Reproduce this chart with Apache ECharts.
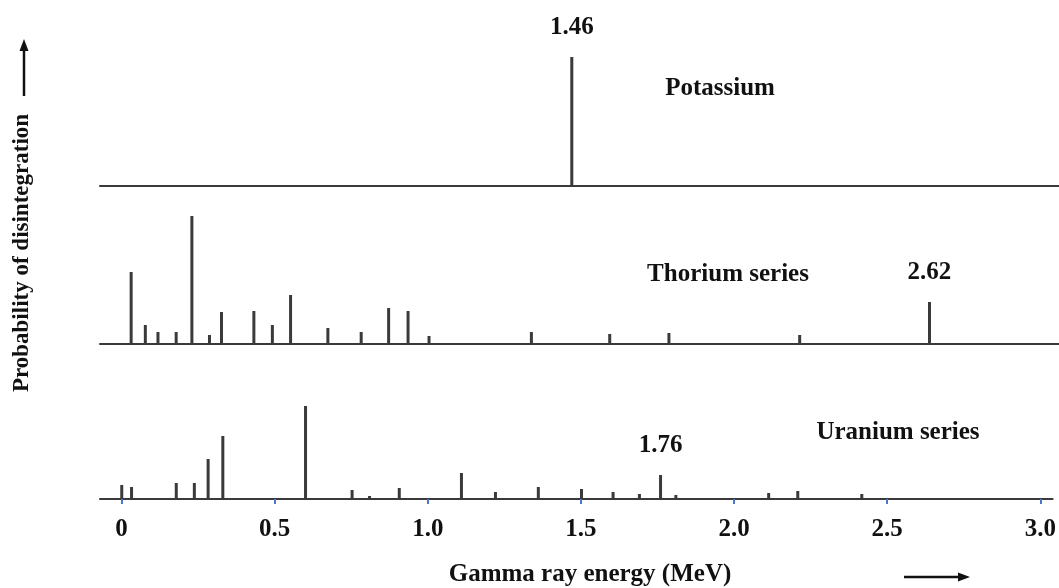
<!DOCTYPE html>
<html>
<head>
<meta charset="utf-8">
<script src="https://cdn.jsdelivr.net/npm/echarts@6/dist/echarts.min.js"></script>
<style>
html,body{margin:0;padding:0;background:#fff;}
#chart{width:1059px;height:588px;}
</style>
</head>
<body>
<div id="chart"></div>
<script>
// ---- data (energies in MeV, relative line intensities) ----
const energyTicks = [0, 0.5, 1.0, 1.5, 2.0, 2.5, 3.0];

const potassiumEnergy = [1.46];
const potassiumIntensity = [129];

const thoriumEnergy = [0.031, 0.077, 0.118, 0.177, 0.228, 0.285, 0.324, 0.429, 0.489, 0.548, 0.669, 0.777, 0.866, 0.929, 0.997, 1.329, 1.583, 1.775, 2.199, 2.62];
const thoriumIntensity = [72, 19, 12, 12, 128, 9, 32, 33, 19, 49, 16, 12, 36, 33, 8, 12, 10, 11, 9, 42];

const uraniumEnergy = [0.001, 0.033, 0.179, 0.238, 0.283, 0.331, 0.601, 0.753, 0.810, 0.907, 1.110, 1.221, 1.361, 1.502, 1.605, 1.691, 1.76, 1.810, 2.113, 2.208, 2.417];
const uraniumIntensity = [14, 12, 16, 16, 40, 63, 93, 9, 3, 11, 26, 7, 12, 10, 7, 5, 24, 4, 6, 8, 5];

const labelledPeaks = [1.46, 2.62, 1.76];

const seriesNames = ['Potassium', 'Thorium series', 'Uranium series'];
const xAxisName = 'Gamma ray energy (MeV)';
const yAxisName = 'Probability of disintegration';

// ---- chart ----
const FONT = '"Liberation Serif", "Times New Roman", serif';
const INK = '#3a3a3a';
const chart = echarts.init(document.getElementById('chart'), null, {renderer: 'canvas'});

const gridTops = [56, 214, 369];
const GRID_H = 130;
const X_MIN = -0.07, X_MAX = 3.04;

function pairs(xs, ys) { return xs.map((x, i) => [x, ys[i]]); }

const grids = gridTops.map(t => ({left: 100, right: 0, top: t, height: GRID_H}));
const xAxes = gridTops.map((t, i) => ({
  type: 'value', gridIndex: i, min: X_MIN, max: X_MAX,
  splitLine: {show: false},
  axisLine: {show: true, onZero: true, lineStyle: {color: INK, width: 2}},
  axisTick: i === 2 ? {show: true, customValues: energyTicks, length: 5, lineStyle: {color: '#4a78c8', width: 2}} : {show: false},
  axisLabel: i === 2 ? {
    show: true, customValues: energyTicks, margin: 18,
    fontFamily: FONT, fontWeight: 'bold', fontSize: 25, color: '#111',
    formatter: v => v === 0 ? '0' : v.toFixed(1)
  } : {show: false}
}));
const yAxes = gridTops.map((t, i) => ({
  type: 'value', gridIndex: i, min: 0, max: GRID_H,
  show: false, splitLine: {show: false}
}));

function peakLabel() {
  return {
    show: true, position: 'top', distance: 17,
    fontFamily: FONT, fontWeight: 'bold', fontSize: 25, color: '#111',
    formatter: p => labelledPeaks.includes(p.value[0]) ? p.value[0].toFixed(2) : ''
  };
}

const allData = [
  pairs(potassiumEnergy, potassiumIntensity),
  pairs(thoriumEnergy, thoriumIntensity),
  pairs(uraniumEnergy, uraniumIntensity)
];

const series = allData.map((d, i) => ({
  name: seriesNames[i], type: 'bar', xAxisIndex: i, yAxisIndex: i,
  data: d, barWidth: 3, barGap: '-100%',
  itemStyle: {color: INK},
  label: peakLabel(),
  animation: false
}));

const nameStyle = {font: 'bold 25px ' + FONT, fill: '#111', textAlign: 'center', textVerticalAlign: 'middle'};

chart.setOption({
  backgroundColor: '#fff',
  animation: false,
  grid: grids,
  xAxis: xAxes,
  yAxis: yAxes,
  series: series,
  graphic: [
    {type: 'text', x: 720, y: 89, style: Object.assign({text: seriesNames[0]}, nameStyle)},
    {type: 'text', x: 728, y: 275, style: Object.assign({text: seriesNames[1]}, nameStyle)},
    {type: 'text', x: 898, y: 433, style: Object.assign({text: seriesNames[2]}, nameStyle)},
    {type: 'text', x: 590, y: 575, style: Object.assign({text: xAxisName}, nameStyle)},
    {type: 'text', x: 22, y: 253, rotation: Math.PI / 2,
     style: Object.assign({text: yAxisName}, nameStyle, {font: 'bold 23px ' + FONT})},
    // y arrow
    {type: 'line', shape: {x1: 24, y1: 96, x2: 24, y2: 48}, style: {stroke: '#111', lineWidth: 2.5}},
    {type: 'polygon', shape: {points: [[24, 39], [19.5, 51], [28.5, 51]]}, style: {fill: '#111'}},
    // x arrow
    {type: 'line', shape: {x1: 904, y1: 577, x2: 960, y2: 577}, style: {stroke: '#111', lineWidth: 2.5}},
    {type: 'polygon', shape: {points: [[970, 577], [958, 572.5], [958, 581.5]]}, style: {fill: '#111'}}
  ]
});
</script>
</body>
</html>
